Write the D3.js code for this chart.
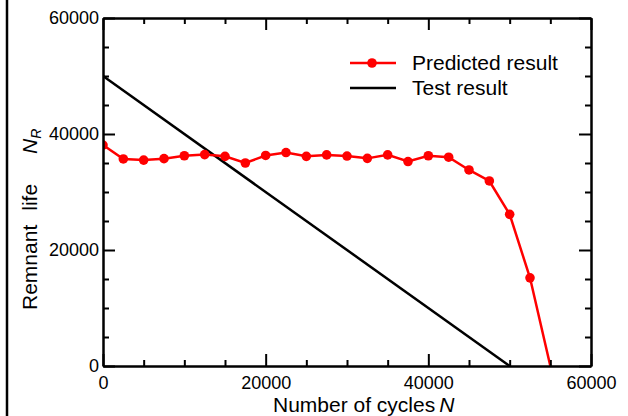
<!DOCTYPE html>
<html>
<head>
<meta charset="utf-8">
<script src="https://cdn.jsdelivr.net/npm/d3@7"></script>
<style>
  body { margin: 0; background: #fff; }
  text { font-family: Arial, "Liberation Sans", sans-serif; fill: #000; }
</style>
</head>
<body>
<div id="graph"></div>
<script>
// cycles N and predicted remnant life N_R
var cycles    = [0, 2500, 5000, 7500, 10000, 12500, 15000, 17500, 20000, 22500, 25000,
                 27500, 30000, 32500, 35000, 37500, 40000, 42500, 45000, 47500, 50000, 52500, 55000]
var predicted = [38100, 35700, 35500, 35750, 36250, 36450, 36150, 35000, 36300, 36800, 36150,
                 36400, 36200, 35800, 36400, 35250, 36250, 36000, 33800, 31900, 26150, 15200, 0]
// test result: straight line
var testCycles = [0, 50000]
var testLife   = [50000, 0]
var majorTicks = [0, 20000, 40000, 60000]
var seriesNames = ["Predicted result", "Test result"]

var width = 628, height = 416
var margin = {top: 18, left: 103, bottom: 50, right: 37}
var chartWidth = width - margin.left - margin.right
var chartHeight = height - margin.top - margin.bottom

var svg = d3.select("#graph").append("svg")
            .attr("width", width).attr("height", height)

// thick line along the left edge
svg.append("line")
   .attr("x1", 7).attr("x2", 7).attr("y1", 0).attr("y2", height)
   .attr("stroke", "#000").attr("stroke-width", 2.5)

var chartLayer = svg.append("g")
                    .attr("transform", "translate(" + [margin.left, margin.top] + ")")

var x = d3.scaleLinear().domain([0, 60000]).range([0, chartWidth])
var y = d3.scaleLinear().domain([0, 60000]).range([chartHeight, 0])
var minorTicks = d3.range(0, 60001, 5000).filter(function(d) { return majorTicks.indexOf(d) < 0 })

chartLayer.append("clipPath").attr("id", "clip")
          .append("rect").attr("width", chartWidth).attr("height", chartHeight)

var plot = chartLayer.append("g").attr("clip-path", "url(#clip)")

// test result line
plot.append("path")
    .datum(testCycles.map(function(d, i) { return [d, testLife[i]] }))
    .attr("d", d3.line().x(function(d) { return x(d[0]) }).y(function(d) { return y(d[1]) }))
    .attr("fill", "none").attr("stroke", "#000").attr("stroke-width", 2.5)

// predicted line + markers
var predData = cycles.map(function(d, i) { return [d, predicted[i]] })
plot.append("path")
    .datum(predData)
    .attr("d", d3.line().x(function(d) { return x(d[0]) }).y(function(d) { return y(d[1]) }))
    .attr("fill", "none").attr("stroke", "#ff0000").attr("stroke-width", 2.5)

plot.selectAll(".dot")
    .data(predData.filter(function(d) { return d[1] > 0 }))
    .enter().append("circle")
    .attr("cx", function(d) { return x(d[0]) })
    .attr("cy", function(d) { return y(d[1]) })
    .attr("r", 4.8)
    .attr("fill", "#ff0000")

// axes, ticks pointing inward on all four sides
function styleAxis(g) {
    g.select(".domain").attr("stroke-width", 2)
    g.selectAll(".tick line").attr("stroke-width", 2)
    g.selectAll("text").attr("font-size", "18px").attr("fill", "#000")
}
function blank() { return "" }

chartLayer.append("g").attr("transform", "translate(0," + chartHeight + ")")
   .call(d3.axisBottom(x).tickValues(majorTicks).tickSize(-12).tickSizeOuter(0).tickPadding(10).tickFormat(d3.format("d")))
   .call(styleAxis)
chartLayer.append("g").attr("transform", "translate(0," + chartHeight + ")")
   .call(d3.axisBottom(x).tickValues(minorTicks).tickSize(-6).tickSizeOuter(0).tickFormat(blank))
   .call(styleAxis)
chartLayer.append("g")
   .call(d3.axisTop(x).tickValues(majorTicks).tickSize(-12).tickSizeOuter(0).tickFormat(blank))
   .call(styleAxis)
chartLayer.append("g")
   .call(d3.axisTop(x).tickValues(minorTicks).tickSize(-6).tickSizeOuter(0).tickFormat(blank))
   .call(styleAxis)

chartLayer.append("g")
   .call(d3.axisLeft(y).tickValues(majorTicks).tickSize(-12).tickSizeOuter(0).tickPadding(4).tickFormat(d3.format("d")))
   .call(styleAxis)
chartLayer.append("g")
   .call(d3.axisLeft(y).tickValues(minorTicks).tickSize(-6).tickSizeOuter(0).tickFormat(blank))
   .call(styleAxis)
chartLayer.append("g").attr("transform", "translate(" + chartWidth + ",0)")
   .call(d3.axisRight(y).tickValues(majorTicks).tickSize(-12).tickSizeOuter(0).tickFormat(blank))
   .call(styleAxis)
chartLayer.append("g").attr("transform", "translate(" + chartWidth + ",0)")
   .call(d3.axisRight(y).tickValues(minorTicks).tickSize(-6).tickSizeOuter(0).tickFormat(blank))
   .call(styleAxis)

// legend
var legend = chartLayer.append("g").attr("transform", "translate(247,45)")
var leg = legend.selectAll("g").data(seriesNames).enter().append("g")
                .attr("transform", function(d, i) { return "translate(0," + (i * 25) + ")" })
leg.append("line").attr("x1", 0).attr("x2", 46)
   .attr("stroke", function(d, i) { return i == 0 ? "#ff0000" : "#000" })
   .attr("stroke-width", 2.5)
leg.filter(function(d, i) { return i == 0 }).append("circle")
   .attr("cx", 22).attr("r", 4.8).attr("fill", "#ff0000")
leg.append("text").attr("x", 62).attr("dy", "0.35em")
   .attr("font-size", "21px")
   .text(function(d) { return d })

// axis titles
var xt = svg.append("text")
            .attr("x", 273).attr("y", 412)
            .attr("font-size", "21px")
xt.append("tspan").text("Number of cycles")
xt.append("tspan").attr("dx", 4).attr("font-style", "italic").text("N")

var yt = svg.append("text")
            .attr("transform", "translate(37,310) rotate(-90)")
            .attr("font-size", "21px")
yt.append("tspan").text("Remnant")
yt.append("tspan").attr("dx", 14).text("life")
yt.append("tspan").attr("dx", 30).attr("font-style", "italic").text("N")
yt.append("tspan").attr("font-style", "italic").attr("font-size", "14px").attr("dy", 4).text("R")

// right edge of the original picture cuts the last tick label
svg.append("rect").attr("x", 617).attr("y", 370).attr("width", 11).attr("height", 46).attr("fill", "#fff")
</script>
</body>
</html>
